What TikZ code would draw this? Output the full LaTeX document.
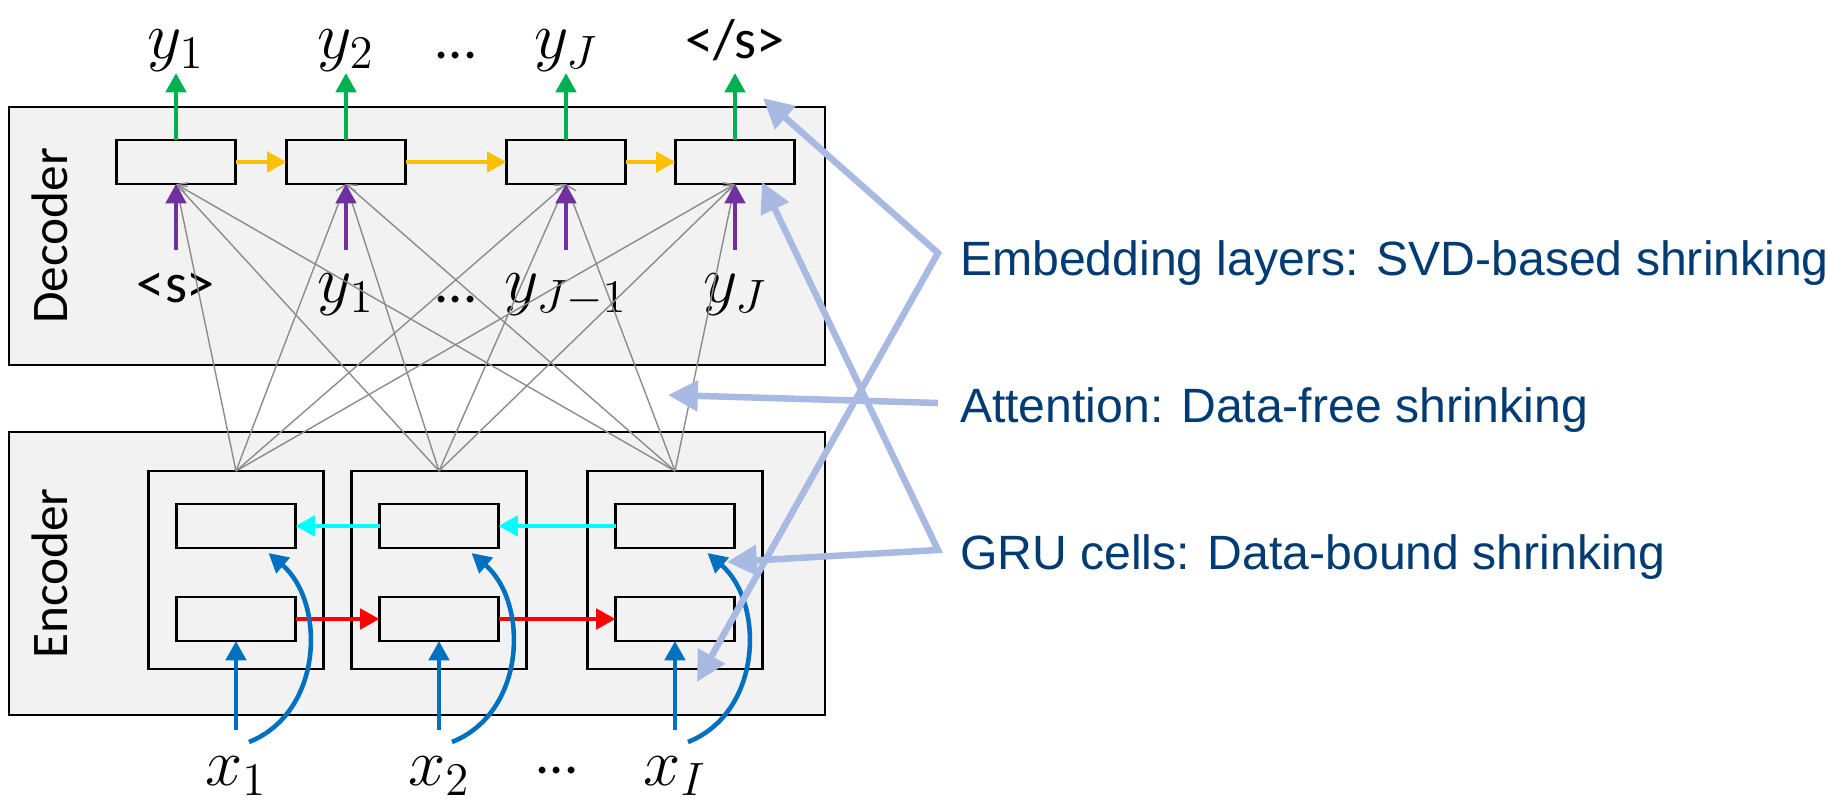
\documentclass[tikz,border=0pt]{standalone}
\usepackage{fix-cm}
\usepackage{xcolor}
\usepackage{fontspec}
\newfontfamily\cellfont{Carlito}
\newfontfamily\notefont{Liberation Sans}
\usepackage{tikz}
\usetikzlibrary{shapes, arrows.meta, positioning, calc}

\definecolor{boxgray}{HTML}{F2F2F2}
\definecolor{outgreen}{HTML}{00B050}
\definecolor{recyellow}{HTML}{FFC000}
\definecolor{embpurple}{HTML}{7030A0}
\definecolor{bwcyan}{HTML}{00FFFF}
\definecolor{fwred}{HTML}{FF0000}
\definecolor{inblue}{HTML}{0070C0}
\definecolor{calloutblue}{RGB}{168,186,226}
\definecolor{notetext}{RGB}{0,60,115}

\begin{document}
\begin{tikzpicture}[
    every node/.style={inner sep=0pt, outer sep=0pt},
    frame/.style={rectangle, draw, line width=0.8pt, fill=boxgray, minimum width=8.16cm},
    cell/.style={rectangle, draw, line width=0.8pt, fill=boxgray, minimum width=1.19cm, minimum height=0.44cm},
    gru/.style={rectangle, draw, line width=0.8pt, fill=boxgray, minimum width=1.75cm, minimum height=1.98cm},
    sym/.style={font=\fontsize{19}{22}\selectfont},
    tok/.style={font=\cellfont\fontsize{16}{19}\selectfont},
    side/.style={font=\cellfont\fontsize{14.6}{17}\selectfont, rotate=90},
    note/.style={font=\notefont\fontsize{13.7}{16}\selectfont, text=notetext},
    flow/.style={line width=1.3pt, arrows = -{Triangle[length=5.5pt, width=5.7pt]}},
    attn/.style={draw=black!45, line width=0.4pt, arrows = -{Straight Barb[length=2.5pt, width=4pt]}},
    callout/.style={draw=calloutblue, line width=1.85pt, arrows = -{Triangle[length=8.5pt, width=8.5pt]}}
]
    \useasboundingbox (0,0) rectangle (18.26,8.07);

    % decoder
    \node (decFrame) [frame, minimum height=2.58cm] at (4.17,5.71) {};
    \node (decLabel) [side] at ([xshift=0.41cm]decFrame.west) {Decoder};
    \node (dec1) [cell] at (1.76,6.45) {};
    \node (dec2) [cell, right=0.51cm of dec1] {};
    \node (dec3) [cell, right=1.01cm of dec2] {};
    \node (dec4) [cell, right=0.50cm of dec3] {};

    \coordinate [above=0.67cm of dec1.north] (top1);
    \coordinate [above=0.67cm of dec2.north] (top2);
    \coordinate [above=0.67cm of dec3.north] (top3);
    \coordinate [above=0.67cm of dec4.north] (top4);
    \node (out1) [sym, above=0.82cm of dec1.north, anchor=base] {$y_1$};
    \node (out2) [sym, above=0.82cm of dec2.north, anchor=base] {$y_2$};
    \node (out3) [sym, above=0.82cm of dec3.north, anchor=base] {$y_J$};
    \node (out4) [tok, above=0.82cm of dec4.north, anchor=base] {</s>};
    \node (outDots) [tok, anchor=base] at ($(out2.base)!0.5!(out3.base)$) {...};

    \coordinate [below=0.66cm of dec1.south] (emb1);
    \coordinate [below=0.66cm of dec2.south] (emb2);
    \coordinate [below=0.66cm of dec3.south] (emb3);
    \coordinate [below=0.66cm of dec4.south] (emb4);
    \node (in1) [tok, below=1.18cm of dec1.south, anchor=base] {<s>};
    \node (in2) [sym, below=1.18cm of dec2.south, anchor=base] {$y_1$};
    \node (in3) [sym, below=1.18cm of dec3.south, anchor=base] {$y_{J-1}$};
    \node (in4) [sym, below=1.18cm of dec4.south, anchor=base] {$y_J$};
    \node (inDots) [tok, anchor=base] at ($(in2.base)!0.5!(in3.base)$) {...};

    % encoder
    \node (encFrame) [frame, minimum height=2.83cm] at (4.17,2.335) {};
    \node (encLabel) [side] at ([xshift=0.41cm]encFrame.west) {Encoder};
    \node (enc1) [gru] at (2.36,2.37) {};
    \node (enc2) [gru, right=0.28cm of enc1] {};
    \node (enc3) [gru, right=0.61cm of enc2] {};
    \node (bw1) [cell, below=0.33cm of enc1.north] {};
    \node (bw2) [cell, below=0.33cm of enc2.north] {};
    \node (bw3) [cell, below=0.33cm of enc3.north] {};
    \node (fw1) [cell, above=0.28cm of enc1.south] {};
    \node (fw2) [cell, above=0.28cm of enc2.south] {};
    \node (fw3) [cell, above=0.28cm of enc3.south] {};

    \coordinate [below=0.89cm of fw1.south] (src1);
    \coordinate [below=0.89cm of fw2.south] (src2);
    \coordinate [below=0.89cm of fw3.south] (src3);
    \coordinate (loop1) at ([xshift=0.13cm, yshift=-0.12cm]src1);
    \coordinate (loop2) at ([xshift=0.13cm, yshift=-0.12cm]src2);
    \coordinate (loop3) at ([xshift=0.13cm, yshift=-0.12cm]src3);
    \node (x1) [sym, below=1.44cm of fw1.south, anchor=base] {$x_1$};
    \node (x2) [sym, below=1.44cm of fw2.south, anchor=base] {$x_2$};
    \node (x3) [sym, below=1.44cm of fw3.south, anchor=base] {$x_I$};
    \node (xDots) [tok, anchor=base] at ($(x2.base)!0.5!(x3.base)+(0,0.12)$) {...};

    % notes
    \node (embNote) [note, anchor=base west] at (9.60,5.32) {Embedding layers: SVD-based shrinking};
    \node (attNote) [note, below=1.47cm of embNote.base west, anchor=base west] {Attention: Data-free shrinking};
    \node (gruNote) [note, below=1.47cm of attNote.base west, anchor=base west] {GRU cells: Data-bound shrinking};
    \coordinate (embV) at (9.38,5.54);
    \coordinate (attV) at (9.38,4.04);
    \coordinate (gruV) at (9.38,2.57);
    \coordinate (embTipTop) at (7.63,7.09);
    \coordinate (embTipBot) at (6.97,1.25);
    \coordinate (attTip) at (6.68,4.12);
    \coordinate (gruTipDec) at (7.62,6.25);
    \coordinate (gruTipEnc) at (7.27,2.45);

    % attention
    \draw [attn] (enc1.north) -- (dec1.south);
    \draw [attn] (enc1.north) -- (dec2.south);
    \draw [attn] (enc1.north) -- (dec3.south);
    \draw [attn] (enc1.north) -- (dec4.south);
    \draw [attn] (enc2.north) -- (dec1.south);
    \draw [attn] (enc2.north) -- (dec2.south);
    \draw [attn] (enc2.north) -- (dec3.south);
    \draw [attn] (enc2.north) -- (dec4.south);
    \draw [attn] (enc3.north) -- (dec1.south);
    \draw [attn] (enc3.north) -- (dec2.south);
    \draw [attn] (enc3.north) -- (dec3.south);
    \draw [attn] (enc3.north) -- (dec4.south);

    \draw [flow, outgreen] (dec1.north) -- (top1);
    \draw [flow, outgreen] (dec2.north) -- (top2);
    \draw [flow, outgreen] (dec3.north) -- (top3);
    \draw [flow, outgreen] (dec4.north) -- (top4);
    \draw [flow, recyellow] (dec1) -- (dec2);
    \draw [flow, recyellow] (dec2) -- (dec3);
    \draw [flow, recyellow] (dec3) -- (dec4);
    \draw [flow, embpurple] (emb1) -- (dec1.south);
    \draw [flow, embpurple] (emb2) -- (dec2.south);
    \draw [flow, embpurple] (emb3) -- (dec3.south);
    \draw [flow, embpurple] (emb4) -- (dec4.south);

    \draw [flow, bwcyan] (bw3) -- (bw2);
    \draw [flow, bwcyan] (bw2) -- (bw1);
    \draw [flow, fwred] (fw1) -- (fw2);
    \draw [flow, fwred] (fw2) -- (fw3);
    \draw [flow, inblue] (src1) -- (fw1.south);
    \draw [flow, inblue] (src2) -- (fw2.south);
    \draw [flow, inblue] (src3) -- (fw3.south);
    \draw [flow, inblue] (loop1) .. controls +(0.75,0.3) and +(0.57,-0.49) .. ([xshift=-0.27cm, yshift=-0.05cm]bw1.south east);
    \draw [flow, inblue] (loop2) .. controls +(0.75,0.3) and +(0.57,-0.49) .. ([xshift=-0.27cm, yshift=-0.05cm]bw2.south east);
    \draw [flow, inblue] (loop3) .. controls +(0.75,0.3) and +(0.57,-0.49) .. ([xshift=-0.27cm, yshift=-0.05cm]bw3.south east);

    \draw [callout, arrows = {Triangle[length=8.5pt, width=8.5pt]}-{Triangle[length=8.5pt, width=8.5pt]}] (embTipTop) -- (embV) -- (embTipBot);
    \draw [callout] (attV) -- (attTip);
    \draw [callout, arrows = {Triangle[length=8.5pt, width=8.5pt]}-{Triangle[length=8.5pt, width=8.5pt]}] (gruTipDec) -- (gruV) -- (gruTipEnc);
\end{tikzpicture}
\end{document}
